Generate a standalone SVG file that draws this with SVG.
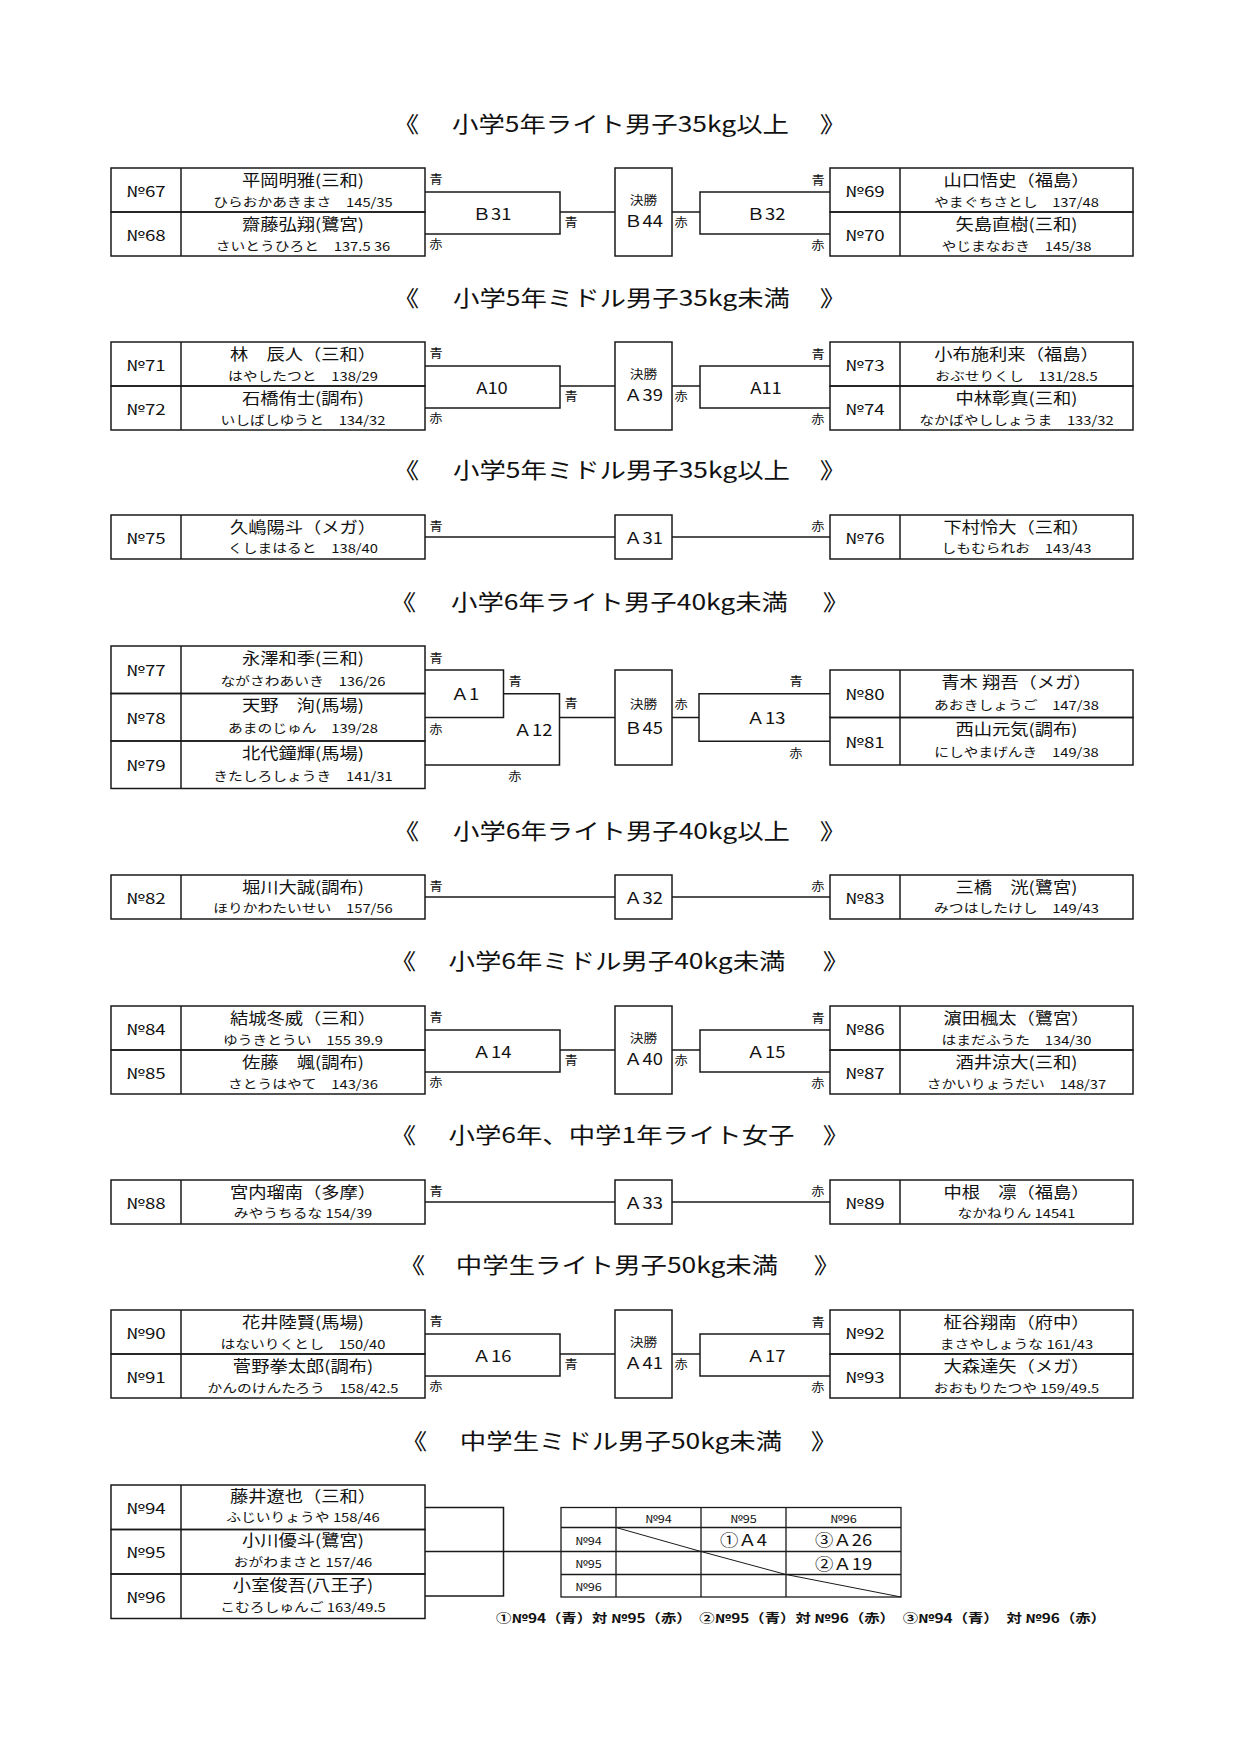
<svg xmlns="http://www.w3.org/2000/svg" width="1240" height="1753" viewBox="0 0 1240 1753">
<style>
text{font-family:"Noto Sans CJK JP","Noto Sans",sans-serif;fill:#111;dominant-baseline:central;text-anchor:middle;transform-box:fill-box;transform-origin:center;transform:scaleX(1.18)}
.ttl{font-size:22px;transform:scaleX(1.2)}
.nm{font-size:15.5px}
.rd{font-size:12.3px;transform:scaleX(1.2)}
.no{font-size:15px;transform:scaleX(1.25)}
.lb{font-size:12px;transform:scaleX(1.1)}
.cd{font-size:16px;transform:scaleX(1.15)}
.fn{font-size:12px;transform:scaleX(1.15)}
.th{font-size:11px;transform:scaleX(1.15)}
.ft{font-size:12.5px;font-weight:bold;transform:scaleX(1.23)}
.bx{fill:none;stroke:#1a1a1a;stroke-width:1.5}
.ln{fill:none;stroke:#1a1a1a;stroke-width:1.3}
.dg{fill:none;stroke:#1a1a1a;stroke-width:1}
</style>
<rect width="1240" height="1753" fill="#fff"/>

<g id="titles">
<text class="ttl" x="406" y="122">《</text><text class="ttl" x="620.5" y="122">小学5年ライト男子35kg以上</text><text class="ttl" x="833" y="122">》</text>
<text class="ttl" x="406" y="296">《</text><text class="ttl" x="621.5" y="296">小学5年ミドル男子35kg未満</text><text class="ttl" x="833" y="296">》</text>
<text class="ttl" x="406" y="469">《</text><text class="ttl" x="621.5" y="469">小学5年ミドル男子35kg以上</text><text class="ttl" x="833" y="469">》</text>
<text class="ttl" x="403" y="600">《</text><text class="ttl" x="619.5" y="600">小学6年ライト男子40kg未満</text><text class="ttl" x="836" y="600">》</text>
<text class="ttl" x="406" y="829">《</text><text class="ttl" x="621.5" y="829">小学6年ライト男子40kg以上</text><text class="ttl" x="833" y="829">》</text>
<text class="ttl" x="403" y="960">《</text><text class="ttl" x="617" y="960">小学6年ミドル男子40kg未満</text><text class="ttl" x="836" y="960">》</text>
<text class="ttl" x="403" y="1134">《</text><text class="ttl" x="621.5" y="1134">小学6年、中学1年ライト女子</text><text class="ttl" x="836" y="1134">》</text>
<text class="ttl" x="412" y="1264">《</text><text class="ttl" x="617" y="1264">中学生ライト男子50kg未満</text><text class="ttl" x="827" y="1264">》</text>
<text class="ttl" x="414" y="1439">《</text><text class="ttl" x="621" y="1439">中学生ミドル男子50kg未満</text><text class="ttl" x="824" y="1439">》</text>
</g>

<!-- Section 1 -->
<g id="p67"><rect class="bx" x="111" y="168" width="314" height="44"/><line class="bx" x1="181" y1="168" x2="181" y2="212"/><text class="no" x="146" y="190">№67</text><text class="nm" x="303" y="179.5">平岡明雅(三和)</text><text class="rd" x="303" y="201.5">ひらおかあきまさ　145/35</text></g>
<g id="p68"><rect class="bx" x="111" y="212" width="314" height="44"/><line class="bx" x1="181" y1="212" x2="181" y2="256"/><text class="no" x="146" y="234">№68</text><text class="nm" x="303" y="223.5">齋藤弘翔(鷺宮)</text><text class="rd" x="303" y="245.5">さいとうひろと　137.5 36</text></g>
<g id="p69"><rect class="bx" x="830" y="168" width="303" height="44"/><line class="bx" x1="900" y1="168" x2="900" y2="212"/><text class="no" x="865" y="190">№69</text><text class="nm" x="1016.5" y="179.5">山口悟史（福島）</text><text class="rd" x="1016.5" y="201.5">やまぐちさとし　137/48</text></g>
<g id="p70"><rect class="bx" x="830" y="212" width="303" height="44"/><line class="bx" x1="900" y1="212" x2="900" y2="256"/><text class="no" x="865" y="234">№70</text><text class="nm" x="1016.5" y="223.5">矢島直樹(三和)</text><text class="rd" x="1016.5" y="245.5">やじまなおき　145/38</text></g>
<g id="m-b31"><path class="bx" d="M425,192 H560 V234 H425"/><text class="cd" x="492" y="213">Ｂ31</text></g>
<g id="f-b44"><rect class="bx" x="615" y="168" width="57" height="88"/><text class="fn" x="643.5" y="200">決勝</text><text class="cd" x="643.5" y="220">Ｂ44</text></g>
<g id="m-b32"><path class="bx" d="M830,192 H700 V234 H830"/><text class="cd" x="766" y="213">Ｂ32</text></g>

<!-- Section 2 -->
<g id="p71"><rect class="bx" x="111" y="342" width="314" height="44"/><line class="bx" x1="181" y1="342" x2="181" y2="386"/><text class="no" x="146" y="364">№71</text><text class="nm" x="303" y="353.5">林　辰人（三和）</text><text class="rd" x="303" y="375.5">はやしたつと　138/29</text></g>
<g id="p72"><rect class="bx" x="111" y="386" width="314" height="44"/><line class="bx" x1="181" y1="386" x2="181" y2="430"/><text class="no" x="146" y="408">№72</text><text class="nm" x="303" y="397.5">石橋侑士(調布)</text><text class="rd" x="303" y="419.5">いしばしゆうと　134/32</text></g>
<g id="p73"><rect class="bx" x="830" y="342" width="303" height="44"/><line class="bx" x1="900" y1="342" x2="900" y2="386"/><text class="no" x="865" y="364">№73</text><text class="nm" x="1016.5" y="353.5">小布施利来（福島）</text><text class="rd" x="1016.5" y="375.5">おぶせりくし　131/28.5</text></g>
<g id="p74"><rect class="bx" x="830" y="386" width="303" height="44"/><line class="bx" x1="900" y1="386" x2="900" y2="430"/><text class="no" x="865" y="408">№74</text><text class="nm" x="1016.5" y="397.5">中林彰真(三和)</text><text class="rd" x="1016.5" y="419.5">なかばやししょうま　133/32</text></g>
<g id="m-a10"><path class="bx" d="M425,366 H560 V408 H425"/><text class="cd" x="492" y="387">A10</text></g>
<g id="f-a39"><rect class="bx" x="615" y="342" width="57" height="88"/><text class="fn" x="643.5" y="374">決勝</text><text class="cd" x="643.5" y="394">Ａ39</text></g>
<g id="m-a11"><path class="bx" d="M830,366 H700 V408 H830"/><text class="cd" x="766" y="387">A11</text></g>

<!-- Section 3 -->
<g id="p75"><rect class="bx" x="111" y="515" width="314" height="44"/><line class="bx" x1="181" y1="515" x2="181" y2="559"/><text class="no" x="146" y="537">№75</text><text class="nm" x="303" y="526">久嶋陽斗（メガ）</text><text class="rd" x="303" y="548">くしまはると　138/40</text></g>
<g id="p76"><rect class="bx" x="830" y="515" width="303" height="44"/><line class="bx" x1="900" y1="515" x2="900" y2="559"/><text class="no" x="865" y="537">№76</text><text class="nm" x="1016.5" y="526">下村怜大（三和）</text><text class="rd" x="1016.5" y="548">しもむられお　143/43</text></g>
<g id="m-a31"><rect class="bx" x="615" y="515" width="57" height="44"/><text class="cd" x="643.5" y="537.5">Ａ31</text></g>

<!-- Section 4 -->
<g id="p77"><rect class="bx" x="111" y="646" width="314" height="47.5"/><line class="bx" x1="181" y1="646" x2="181" y2="693.5"/><text class="no" x="146" y="669.75">№77</text><text class="nm" x="303" y="657">永澤和季(三和)</text><text class="rd" x="303" y="680.5">ながさわあいき　136/26</text></g>
<g id="p78"><rect class="bx" x="111" y="693.5" width="314" height="47.5"/><line class="bx" x1="181" y1="693.5" x2="181" y2="741"/><text class="no" x="146" y="717.25">№78</text><text class="nm" x="303" y="704.5">天野　洵(馬場)</text><text class="rd" x="303" y="728">あまのじゅん　139/28</text></g>
<g id="p79"><rect class="bx" x="111" y="741" width="314" height="47.5"/><line class="bx" x1="181" y1="741" x2="181" y2="788.5"/><text class="no" x="146" y="764.75">№79</text><text class="nm" x="303" y="752">北代鐘輝(馬場)</text><text class="rd" x="303" y="775.5">きたしろしょうき　141/31</text></g>
<g id="p80"><rect class="bx" x="830" y="670" width="303" height="47.5"/><line class="bx" x1="900" y1="670" x2="900" y2="717.5"/><text class="no" x="865" y="693.75">№80</text><text class="nm" x="1016.5" y="681">青木 翔吾（メガ）</text><text class="rd" x="1016.5" y="704.5">あおきしょうご　147/38</text></g>
<g id="p81"><rect class="bx" x="830" y="717.5" width="303" height="47.5"/><line class="bx" x1="900" y1="717.5" x2="900" y2="765"/><text class="no" x="865" y="741.25">№81</text><text class="nm" x="1016.5" y="728.5">西山元気(調布)</text><text class="rd" x="1016.5" y="752">にしやまげんき　149/38</text></g>
<g id="m-a1"><path class="bx" d="M425,670 H503.5 V717.5 H425"/><text class="cd" x="465" y="693">Ａ1</text></g>
<g id="m-a12"><path class="bx" d="M503.5,693.75 H559.5 V765 H425"/><text class="cd" x="533" y="729">Ａ12</text></g>
<g id="f-b45"><rect class="bx" x="615" y="670" width="57" height="95"/><text class="fn" x="643.5" y="704">決勝</text><text class="cd" x="643.5" y="727">Ｂ45</text></g>
<g id="m-a13"><path class="bx" d="M830,693.75 H699 V741.25 H830"/><text class="cd" x="766" y="717">Ａ13</text></g>

<!-- Section 5 -->
<g id="p82"><rect class="bx" x="111" y="875" width="314" height="44"/><line class="bx" x1="181" y1="875" x2="181" y2="919"/><text class="no" x="146" y="897">№82</text><text class="nm" x="303" y="886">堀川大誠(調布)</text><text class="rd" x="303" y="908">ほりかわたいせい　157/56</text></g>
<g id="p83"><rect class="bx" x="830" y="875" width="303" height="44"/><line class="bx" x1="900" y1="875" x2="900" y2="919"/><text class="no" x="865" y="897">№83</text><text class="nm" x="1016.5" y="886">三橋　洸(鷺宮)</text><text class="rd" x="1016.5" y="908">みつはしたけし　149/43</text></g>
<g id="m-a32"><rect class="bx" x="615" y="875" width="57" height="44"/><text class="cd" x="643.5" y="897.5">Ａ32</text></g>

<!-- Section 6 -->
<g id="p84"><rect class="bx" x="111" y="1006" width="314" height="44"/><line class="bx" x1="181" y1="1006" x2="181" y2="1050"/><text class="no" x="146" y="1028">№84</text><text class="nm" x="303" y="1017.5">結城冬威（三和）</text><text class="rd" x="303" y="1039.5">ゆうきとうい　155 39.9</text></g>
<g id="p85"><rect class="bx" x="111" y="1050" width="314" height="44"/><line class="bx" x1="181" y1="1050" x2="181" y2="1094"/><text class="no" x="146" y="1072">№85</text><text class="nm" x="303" y="1061.5">佐藤　颯(調布)</text><text class="rd" x="303" y="1083.5">さとうはやて　143/36</text></g>
<g id="p86"><rect class="bx" x="830" y="1006" width="303" height="44"/><line class="bx" x1="900" y1="1006" x2="900" y2="1050"/><text class="no" x="865" y="1028">№86</text><text class="nm" x="1016.5" y="1017.5">濵田楓太（鷺宮）</text><text class="rd" x="1016.5" y="1039.5">はまだふうた　134/30</text></g>
<g id="p87"><rect class="bx" x="830" y="1050" width="303" height="44"/><line class="bx" x1="900" y1="1050" x2="900" y2="1094"/><text class="no" x="865" y="1072">№87</text><text class="nm" x="1016.5" y="1061.5">酒井涼大(三和)</text><text class="rd" x="1016.5" y="1083.5">さかいりょうだい　148/37</text></g>
<g id="m-a14"><path class="bx" d="M425,1030 H560 V1072 H425"/><text class="cd" x="492" y="1051">Ａ14</text></g>
<g id="f-a40"><rect class="bx" x="615" y="1006" width="57" height="88"/><text class="fn" x="643.5" y="1038">決勝</text><text class="cd" x="643.5" y="1058">Ａ40</text></g>
<g id="m-a15"><path class="bx" d="M830,1030 H700 V1072 H830"/><text class="cd" x="766" y="1051">Ａ15</text></g>

<!-- Section 7 -->
<g id="p88"><rect class="bx" x="111" y="1180" width="314" height="44"/><line class="bx" x1="181" y1="1180" x2="181" y2="1224"/><text class="no" x="146" y="1202">№88</text><text class="nm" x="303" y="1191">宮内瑠南（多摩）</text><text class="rd" x="303" y="1213">みやうちるな 154/39</text></g>
<g id="p89"><rect class="bx" x="830" y="1180" width="303" height="44"/><line class="bx" x1="900" y1="1180" x2="900" y2="1224"/><text class="no" x="865" y="1202">№89</text><text class="nm" x="1016.5" y="1191">中根　凛（福島）</text><text class="rd" x="1016.5" y="1213">なかねりん 14541</text></g>
<g id="m-a33"><rect class="bx" x="615" y="1180" width="57" height="44"/><text class="cd" x="643.5" y="1202.5">Ａ33</text></g>

<!-- Section 8 -->
<g id="p90"><rect class="bx" x="111" y="1310" width="314" height="44"/><line class="bx" x1="181" y1="1310" x2="181" y2="1354"/><text class="no" x="146" y="1332">№90</text><text class="nm" x="303" y="1321.5">花井陸賢(馬場)</text><text class="rd" x="303" y="1343.5">はないりくとし　150/40</text></g>
<g id="p91"><rect class="bx" x="111" y="1354" width="314" height="44"/><line class="bx" x1="181" y1="1354" x2="181" y2="1398"/><text class="no" x="146" y="1376">№91</text><text class="nm" x="303" y="1365.5">菅野拳太郎(調布)</text><text class="rd" x="303" y="1387.5">かんのけんたろう　158/42.5</text></g>
<g id="p92"><rect class="bx" x="830" y="1310" width="303" height="44"/><line class="bx" x1="900" y1="1310" x2="900" y2="1354"/><text class="no" x="865" y="1332">№92</text><text class="nm" x="1016.5" y="1321.5">柾谷翔南（府中）</text><text class="rd" x="1016.5" y="1343.5">まさやしょうな 161/43</text></g>
<g id="p93"><rect class="bx" x="830" y="1354" width="303" height="44"/><line class="bx" x1="900" y1="1354" x2="900" y2="1398"/><text class="no" x="865" y="1376">№93</text><text class="nm" x="1016.5" y="1365.5">大森達矢（メガ）</text><text class="rd" x="1016.5" y="1387.5">おおもりたつや 159/49.5</text></g>
<g id="m-a16"><path class="bx" d="M425,1334 H560 V1376 H425"/><text class="cd" x="492" y="1355">Ａ16</text></g>
<g id="f-a41"><rect class="bx" x="615" y="1310" width="57" height="88"/><text class="fn" x="643.5" y="1342">決勝</text><text class="cd" x="643.5" y="1362">Ａ41</text></g>
<g id="m-a17"><path class="bx" d="M830,1334 H700 V1376 H830"/><text class="cd" x="766" y="1355">Ａ17</text></g>

<!-- Section 9 -->
<g id="p94"><rect class="bx" x="111" y="1485" width="314" height="44.5"/><line class="bx" x1="181" y1="1485" x2="181" y2="1529.5"/><text class="no" x="146" y="1507.25">№94</text><text class="nm" x="303" y="1495">藤井遼也（三和）</text><text class="rd" x="303" y="1517">ふじいりょうや 158/46</text></g>
<g id="p95"><rect class="bx" x="111" y="1529.5" width="314" height="44.5"/><line class="bx" x1="181" y1="1529.5" x2="181" y2="1574"/><text class="no" x="146" y="1551.75">№95</text><text class="nm" x="303" y="1539.5">小川優斗(鷺宮)</text><text class="rd" x="303" y="1561.5">おがわまさと 157/46</text></g>
<g id="p96"><rect class="bx" x="111" y="1574" width="314" height="44.5"/><line class="bx" x1="181" y1="1574" x2="181" y2="1618.5"/><text class="no" x="146" y="1596.25">№96</text><text class="nm" x="303" y="1584">小室俊吾(八王子)</text><text class="rd" x="303" y="1606.5">こむろしゅんご 163/49.5</text></g>
<g id="league-table">
<rect class="ln" x="561" y="1507.5" width="340" height="89.5"/>
<path class="ln" d="M616,1507.5 V1597 M701,1507.5 V1597 M786,1507.5 V1597 M561,1527.5 H901 M561,1551.5 H901 M561,1574.5 H901"/>
<path class="dg" d="M616,1527.5 L701,1551.5 M701,1551.5 L786,1574.5 M786,1574.5 L901,1597"/>
<text class="th" x="658.5" y="1517.5">№94</text><text class="th" x="743.5" y="1517.5">№95</text><text class="th" x="843.5" y="1517.5">№96</text>
<text class="th" x="588.5" y="1539.5">№94</text><text class="th" x="588.5" y="1563">№95</text><text class="th" x="588.5" y="1586">№96</text>
<text class="cd" x="743.5" y="1539.5">①Ａ4</text><text class="cd" x="843.5" y="1539.5">③Ａ26</text><text class="cd" x="843.5" y="1563">②Ａ19</text>
</g>
<text class="ft" x="801" y="1618">①№94（青）対 №95（赤）　②№95（青）対 №96（赤）　③№94（青）　対 №96（赤）</text>

<g id="connectors">
<path class="ln" d="M560,212 H615 M672,212 H700"/>
<path class="ln" d="M560,386 H615 M672,386 H700"/>
<path class="ln" d="M425,537 H615 M672,537 H830"/>
<path class="ln" d="M559.5,717.5 H615 M672,717.5 H699"/>
<path class="ln" d="M425,897 H615 M672,897 H830"/>
<path class="ln" d="M560,1050 H615 M672,1050 H700"/>
<path class="ln" d="M425,1202 H615 M672,1202 H830"/>
<path class="ln" d="M560,1354 H615 M672,1354 H700"/>
<path class="bx" d="M425,1507.5 H503.5 V1596 H425 M425,1551.5 H561"/>
</g>

<g id="corner-labels">
<text class="lb" x="436" y="179">青</text><text class="lb" x="436" y="244">赤</text><text class="lb" x="571" y="221.5">青</text><text class="lb" x="681" y="221.5">赤</text><text class="lb" x="818" y="179.5">青</text><text class="lb" x="818" y="244.5">赤</text>
<text class="lb" x="436" y="353">青</text><text class="lb" x="436" y="418">赤</text><text class="lb" x="571" y="395.5">青</text><text class="lb" x="681" y="395.5">赤</text><text class="lb" x="818" y="353.5">青</text><text class="lb" x="818" y="418.5">赤</text>
<text class="lb" x="436" y="526">青</text><text class="lb" x="818" y="526">赤</text>
<text class="lb" x="436" y="658">青</text><text class="lb" x="515" y="681">青</text><text class="lb" x="571" y="703">青</text><text class="lb" x="436" y="729">赤</text><text class="lb" x="515" y="776">赤</text><text class="lb" x="681" y="704">赤</text><text class="lb" x="796" y="681">青</text><text class="lb" x="796" y="753">赤</text>
<text class="lb" x="436" y="886">青</text><text class="lb" x="818" y="886">赤</text>
<text class="lb" x="436" y="1017">青</text><text class="lb" x="436" y="1082">赤</text><text class="lb" x="571" y="1059.5">青</text><text class="lb" x="681" y="1059.5">赤</text><text class="lb" x="818" y="1017.5">青</text><text class="lb" x="818" y="1082.5">赤</text>
<text class="lb" x="436" y="1191">青</text><text class="lb" x="818" y="1191">赤</text>
<text class="lb" x="436" y="1321">青</text><text class="lb" x="436" y="1386">赤</text><text class="lb" x="571" y="1363.5">青</text><text class="lb" x="681" y="1363.5">赤</text><text class="lb" x="818" y="1321.5">青</text><text class="lb" x="818" y="1386.5">赤</text>
</g>
</svg>
